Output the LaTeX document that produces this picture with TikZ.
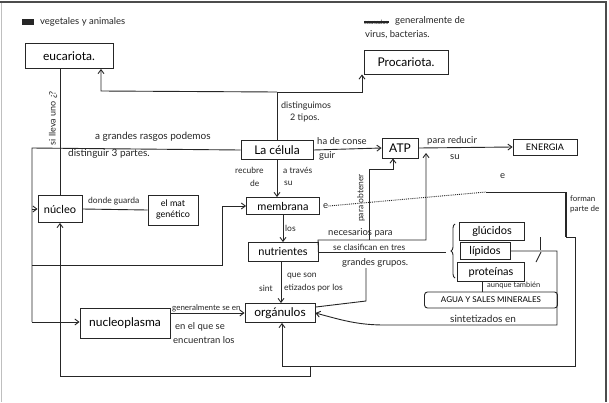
\documentclass[tikz,border=0pt]{standalone}
\usepackage{fontspec}
\setmainfont{Lato}
\usetikzlibrary{arrows.meta,decorations.pathreplacing}
\begin{document}
\begin{tikzpicture}[x=1pt,y=-1pt,
  ink/.style={draw=black!85, line width=0.9pt},
  box/.style={ink, inner sep=1pt, align=center, font=\fontsize{12}{13}\selectfont},
  lbl/.style={inner sep=0pt, anchor=west, text=black!85, font=\fontsize{9.5}{10}\selectfont},
  arr/.style={ink, -{Straight Barb[length=4pt,width=6pt]}},
]
\useasboundingbox (0,0) rectangle (609,402);
\fill[white] (0,0) rectangle (609,402);
\draw[black!70, line width=1.6pt] (0,2) -- (606,2) -- (606,402);
\draw[black!25, line width=0.6pt] (1,3) -- (1,402);

% ---- boxes
\node[box, minimum width=88pt, minimum height=25pt] (euc) at (69,56) {eucariota.};
\node[box, minimum width=84pt, minimum height=24pt] (pro) at (406,62) {Procariota.};
\node[box, minimum width=72pt, minimum height=19pt] (cel) at (277,150) {La célula};
\node[box, minimum width=36pt, minimum height=20pt] (atp) at (400,148) {ATP};
\node[box, minimum width=64pt, minimum height=16pt, font=\fontsize{9}{10}\selectfont] (ene) at (545,147) {ENERGIA};
\node[box, minimum width=44pt, minimum height=27pt, font=\fontsize{11}{12}\selectfont] (nuc) at (60,209) {núcleo};
\node[box, minimum width=50pt, minimum height=30pt, font=\fontsize{9}{11}\selectfont] (mat) at (173,210) {el mat\\genético};
\node[box, minimum width=73pt, minimum height=17pt, font=\fontsize{11}{12}\selectfont] (mem) at (283,206) {membrana};
\node[box, minimum width=70pt, minimum height=19pt, font=\fontsize{11}{12}\selectfont] (nut) at (283,252) {nutrientes};
\node[box, minimum width=70pt, minimum height=19pt] (org) at (280,313) {orgánulos};
\node[box, minimum width=90pt, minimum height=30pt] (ncp) at (125,323) {nucleoplasma};
\node[box, minimum width=65pt, minimum height=18pt, font=\fontsize{11}{12}\selectfont] (glu) at (492,231) {glúcidos};
\node[box, minimum width=50pt, minimum height=17pt, font=\fontsize{11}{12}\selectfont] (lip) at (485,251) {lípidos};
\node[box, minimum width=67pt, minimum height=19pt, font=\fontsize{11}{12}\selectfont] (prot) at (491,272) {proteínas};
\node[box, rounded corners=3pt, minimum width=133pt, minimum height=16pt, font=\fontsize{8}{9}\selectfont] (agua) at (491,300) {AGUA Y SALES MINERALES};

% ---- top notes
\fill[black!85] (22,19) rectangle (34,25);
\node[lbl] (tveg) at (40,22) {vegetales y animales};
\node[lbl, font=\fontsize{6}{7}\selectfont] (tcau) at (364,22) {causados};
\draw[ink, line width=1.6pt] (tcau.west) -- (tcau.east);
\node[lbl] (tgen) at (395,21) {generalmente de};
\node[lbl] (tvir) at (365,35) {virus, bacterias.};

% ---- célula -> two types
\coordinate (jt) at (277,92);
\coordinate (ea) at (101,91);
\coordinate (pa) at (362,92);
\draw[ink] (cel.north) -- (jt);
\draw[arr] (jt) -- (ea) -- (ea |- euc.south);
\draw[arr] (jt) -- (pa) -- (pa |- pro.south);
\node[lbl, font=\fontsize{9}{10}\selectfont] (tdis) at (281,106) {distinguimos};
\node[lbl, font=\fontsize{9}{10}\selectfont] (ttip) at (290,118) {2 tipos.};

% ---- célula -> ATP -> ENERGIA
\draw[arr] (cel.east) -- (atp.west);
\node[lbl] (tha) at (317,141) {ha de conse};
\node[lbl] (tgu) at (319,156) {guir};
\draw[arr] (atp.east) -- (ene.west);
\node[lbl] (tpr) at (427,141) {para reducir};
\node[lbl] (tsu) at (450,157) {su};
\node[lbl] (te2) at (500,176) {e};

% ---- célula -> left parts
\coordinate (la) at (32,148);
\coordinate (lb) at (32,322);
\draw[ink] (cel.west) -- (la) -- (lb);
\draw[arr] (lb) -- (lb -| ncp.west);
\draw[arr] (la |- nuc.west) -- (nuc.west);
\node[lbl, font=\fontsize{10}{11}\selectfont] (tgr) at (95,137) {a grandes rasgos podemos};
\node[lbl, font=\fontsize{10}{11}\selectfont] (tdi) at (68,154) {distinguir 3 partes.};
\coordinate (ma) at (32,265);
\coordinate (mb) at (222,265);
\draw[arr] (ma) -- (mb) -- (mb |- mem.west) -- (mem.west);

% ---- eucariota -> núcleo
\draw[ink] (nuc.north |- euc.south) -- (nuc.north);
\node[lbl, anchor=center, rotate=90, font=\fontsize{9}{10}\selectfont] (tsi) at (53,118) {si lleva uno ¿?};

% ---- núcleo -> material genético
\draw[ink] (nuc.east) -- (mat.west);
\node[lbl, font=\fontsize{8.5}{9}\selectfont] (tdo) at (88,201) {donde guarda};

% ---- célula -> membrana -> nutrientes -> orgánulos
\draw[arr] (cel.south) -- (cel.south |- mem.north);
\node[lbl, font=\fontsize{8.5}{9}\selectfont] (tre) at (235,170) {recubre};
\node[lbl, font=\fontsize{8.5}{9}\selectfont] (tde) at (250,183) {de};
\node[lbl, font=\fontsize{8.5}{9}\selectfont] (tat) at (283,170) {a través};
\node[lbl, font=\fontsize{8.5}{9}\selectfont] (tsu2) at (284,183) {su};
\draw[arr] (mem.south -| nut.north) -- (nut.north);
\node[lbl, font=\fontsize{8.5}{9}\selectfont] (tlo) at (285,228) {los};
\draw[arr] (nut.south -| 281,0) -- (org.north -| 281,0);
\node[lbl, font=\fontsize{8.5}{9}\selectfont] (tqu) at (287,276) {que son};
\node[lbl, font=\fontsize{8.5}{9}\selectfont] (tsin) at (259,288) {sint};
\node[lbl, font=\fontsize{8.5}{9}\selectfont] (teti) at (284,288) {etizados por los};

% ---- nucleoplasma -> orgánulos
\draw[arr] (ncp.east |- org.west) -- (org.west);
\node[lbl, font=\fontsize{8}{9}\selectfont] (tgen2) at (172,308) {generalmente se en};
\node[lbl] (tenel) at (175,327) {en el que se};
\node[lbl] (tenc) at (173,340) {encuentran los};

% ---- nutrientes -> groups
\coordinate (br) at (446,252);
\draw[ink] (nut.east) -- (br);
\coordinate (na) at (318,240);
\coordinate (nb) at (426,240);
\coordinate (nc) at (426,153);
\draw[arr] (nut.east) -- (na) -- (nb) -- (nc);
\node[lbl] (tnec) at (328,233) {necesarios para};
\node[lbl, font=\fontsize{8.5}{9}\selectfont] (tcla) at (333,247) {se clasifican en tres};
\node[lbl] (tgru) at (342,263) {grandes grupos.};
\coordinate (oa) at (369,240);
\coordinate (ob) at (369,169);
\coordinate (oc) at (393,169);
\draw[arr] (oa) -- (ob) -- (oc) -- (oc |- atp.south);
\node[lbl, anchor=center, rotate=90, font=\fontsize{8.5}{9}\selectfont] (tpo) at (361,198) {para obtener};
\draw[ink, decorate, decoration={brace, amplitude=4pt}] (455,278) -- (455,224);

% ---- orgánulos -> grandes grupos
\coordinate (ga) at (366,301);
\coordinate (gb) at (366,268);
\draw[ink] ([yshift=-4pt]org.north east) -- (ga) -- (gb);

% ---- lípidos -> sintetizados en -> orgánulos
\coordinate (sa) at (557,251);
\coordinate (sb) at (557,325);
\coordinate (sc) at (385,325);
\draw[arr] (lip.east) -- (sa) -- (sb) -- (sc) to[out=180,in=-15] (org.east);
\draw[ink] (540,237) -- (540,250);
\draw[ink] (536,262) -- (541,252);
\node[lbl, font=\fontsize{10}{11}\selectfont] (tsint) at (450,319) {sintetizados en};

% ---- proteínas -> agua
\coordinate (pq) at (482,0);
\draw[ink] (prot.south -| pq) -- (agua.north -| pq);
\node[lbl, font=\fontsize{7.5}{8}\selectfont] (tau) at (487,285) {aunque también};

% ---- membrana -> forman parte de -> orgánulos
\node[lbl] (te) at (323,206) {e};
\coordinate (ra) at (566,192);
\coordinate (rb) at (566,237);
\coordinate (rc) at (575,237);
\coordinate (rd) at (575,366);
\coordinate (re) at (282,366);
\draw[ink, densely dotted] (te.east) -- ([xshift=-80pt]ra);
\draw[ink] ([xshift=-80pt]ra) -- (ra);
\draw[ink, line width=1.6pt] (ra) -- (rb);
\draw[arr] (rb) -- (rc) -- (rd) -- (re) -- (org.south -| re);
\node[lbl, font=\fontsize{8}{10}\selectfont, align=left] (tfor) at (570,204) {forman\\parte de};

% ---- bottom loop into núcleo
\coordinate (ba) at (310,366);
\coordinate (bb) at (310,376);
\coordinate (bc) at (60,376);
\draw[arr] (ba) -- (bb) -- (bc) -- (nuc.south);
\end{tikzpicture}
\end{document}
